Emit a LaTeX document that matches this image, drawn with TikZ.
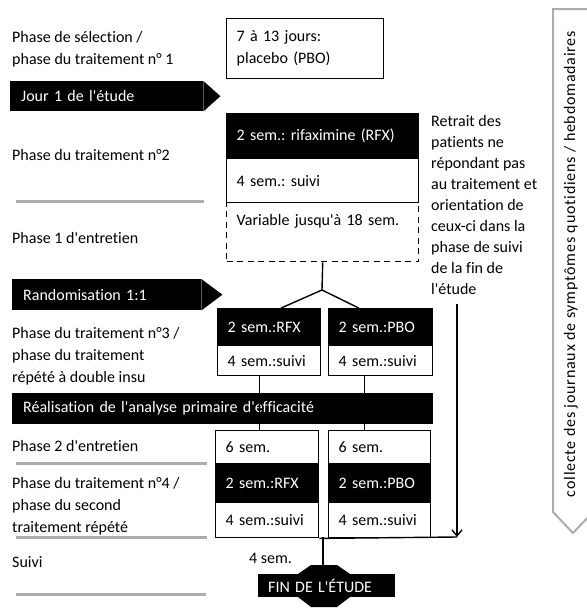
\documentclass[tikz,border=0pt]{standalone}
\usepackage{fontspec}
\setmainfont{Carlito}[Ligatures=NoCommon]
\usetikzlibrary{arrows.meta}
\frenchspacing

\begin{document}
\begin{tikzpicture}[x=1pt,y=-1pt,
  every node/.style={font=\fontsize{16}{22}\selectfont},
  lbl/.style={anchor=west,align=left,inner sep=0pt},
  cell/.style={anchor=north west,align=left,inner xsep=10pt,inner ysep=0pt,line width=1.4pt},
  blk/.style={fill=black,draw=black,text=white},
  wht/.style={fill=white,draw=black},
  bar/.style={anchor=north west,align=left,fill=black,text=white,inner xsep=11pt,inner ysep=0pt},
  rule/.style={draw=gray!65,line width=3pt},
  line/.style={draw=black,line width=1.4pt}]
  \useasboundingbox (0,0) rectangle (587,614);

  % phases on the left
  \node[lbl] (sel)   at (12,49)  {Phase de sélection /\\phase du traitement n° 1};
  \node[lbl] (tr2)   at (12,155) {Phase du traitement n°2};
  \node[lbl] (ent1)  at (12,238) {Phase 1 d\textquotesingle entretien};
  \node[lbl] (tr3)   at (12,356) {Phase du traitement n°3 /\\phase du traitement\\répété à double insu};
  \node[lbl] (ent2)  at (12,446) {Phase 2 d\textquotesingle entretien};
  \node[lbl] (tr4)   at (12,506) {Phase du traitement n°4 /\\phase du second\\traitement répété};
  \node[lbl] (suivi) at (12,562) {Suivi};
  \draw[rule] (16,201) -- (204,201);
  \draw[rule] (16,463) -- (207,463);
  \draw[rule] (16,537) -- (207,537);
  \draw[rule] (16,594) -- (206,594);

  % black markers
  \node[bar,text width=171,minimum height=30] (jour) at (10,81) {Jour 1 de l\textquotesingle étude};
  \fill (jour.north east) -- ([xshift=17pt]jour.east) -- (jour.south east) -- cycle;
  \node[bar,text width=167,minimum height=31] (rand) at (12,279) {Randomisation 1:1};
  \fill (rand.north east) -- ([xshift=21pt]rand.east) -- (rand.south east) -- cycle;
  \node[bar,text width=399,minimum height=31] (prim) at (12,393)
    {Réalisation de l\textquotesingle analyse primaire d\textquotesingle ef\kern0pt f\kern0pt icacité};

  % first phases
  \node[cell,wht,text width=137,minimum height=60] (pbo1) at (226,18) {7 à 13 jours:\\placebo (PBO)};
  \node[cell,wht,dashed,dash pattern=on 6pt off 4.5pt,text width=172,minimum height=59,
        text height=15,text depth=28,inner ysep=8pt] (var) at (226,202) {Variable jusqu\textquotesingle à 18 sem.};
  \node[cell,wht,text width=172,minimum height=44] (fu2) at (226,158) {4 sem.: suivi};
  \node[cell,blk,text width=172,minimum height=45] (rfx2) at (226,113) {2 sem.: rifaximine (RFX)};

  % randomised arms
  \node[cell,blk,text width=83,minimum height=37] (rfx3) at (217,308) {2 sem.:RFX};
  \node[cell,wht,text width=83,minimum height=30] (fu3a) at (217,345) {4 sem.:suivi};
  \node[cell,blk,text width=84,minimum height=37] (pbo3) at (328,308) {2 sem.:PBO};
  \node[cell,wht,text width=84,minimum height=30] (fu3b) at (328,345) {4 sem.:suivi};

  \node[cell,wht,text width=83,minimum height=33] (wk6a) at (215,430) {6 sem.};
  \node[cell,blk,text width=83,minimum height=39] (rfx4) at (215,463) {2 sem.:RFX};
  \node[cell,wht,text width=83,minimum height=35] (fu4a) at (215,502) {4 sem.:suivi};
  \node[cell,wht,text width=82,minimum height=33] (wk6b) at (328,430) {6 sem.};
  \node[cell,blk,text width=82,minimum height=39] (pbo4) at (328,463) {2 sem.:PBO};
  \node[cell,wht,text width=82,minimum height=35] (fu4b) at (328,502) {4 sem.:suivi};

  % end of study
  \node[lbl] (fu4) at (249,558) {4 sem.};
  \fill (311,565) -- (337,565) -- (350,574) -- (350,597) -- (337,607) -- (311,607) -- (298,597) -- (298,574) -- cycle;
  \node[bar,text width=117,minimum height=23,inner xsep=10pt] (fin) at (258,574) {FIN DE L\textquotesingle ÉTUDE};

  % withdrawal
  \node[lbl,font=\fontsize{16}{20.9}\selectfont] (retrait) at (431,205)
    {Retrait des\\patients ne\\répondant pas\\au traitement et\\orientation de\\ceux-ci dans la\\phase de suivi\\de la fin de\\l\textquotesingle étude};

  % diaries
  \draw[draw=gray!65,line width=2pt] (553,9) -- (553,512) -- (573,533) -- (593,512) -- (593,9) -- cycle;
  \node[rotate=90,font=\fontsize{16}{20}\selectfont\addfontfeatures{LetterSpace=5}] (diary) at (571,264)
    {collecte des journaux de symptômes quotidiens / hebdomadaires};

  % connectors
  \coordinate (split) at (322,290);
  \coordinate (join) at (323,537);
  \coordinate (end) at (457,537);
  \draw[line] (var.south) -- (split);
  \draw[line] (split) -- ([xshift=12pt]rfx3.north);
  \draw[line] (split) -- ([xshift=-22pt]pbo3.north);
  \draw[line] ([xshift=-10pt]fu3a.south) -- ([xshift=-10pt]fu3a.south |- wk6a.north);
  \draw[line] ([xshift=-16pt]fu3b.south) -- ([xshift=-16pt]fu3b.south |- wk6b.north);
  \draw[line] (fu4a.south east) -- (end);
  \draw[line] (join) -- (join |- fin.north);
  \draw[line,-{Straight Barb[length=6pt,width=10pt]}] ([yshift=-10pt]retrait.south -| end) -- (end);
\end{tikzpicture}
\end{document}
